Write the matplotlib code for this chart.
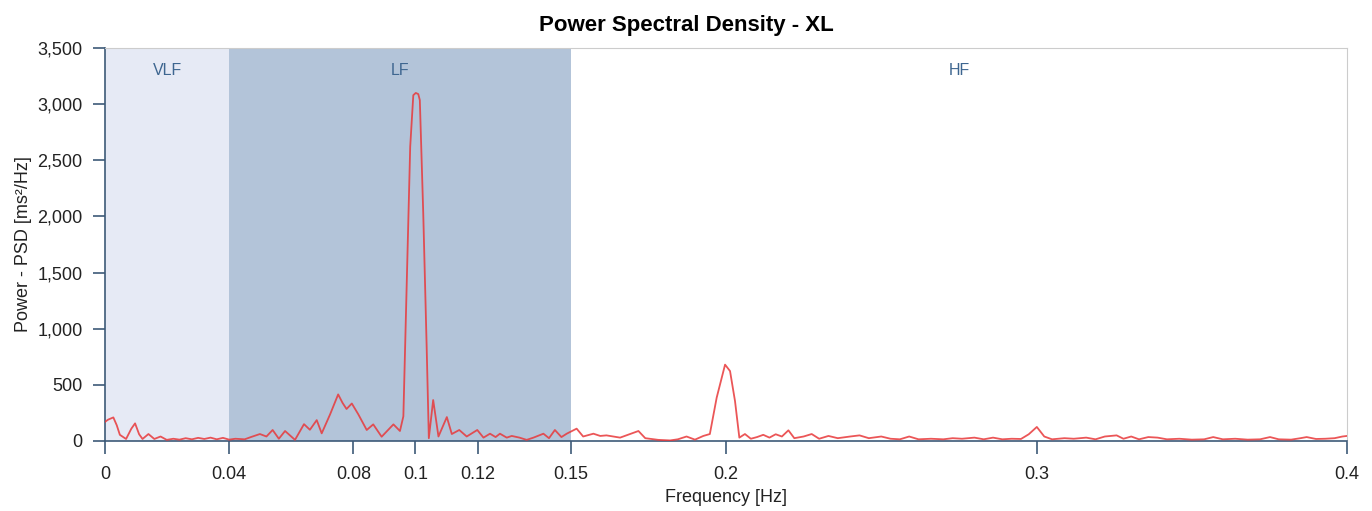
import matplotlib
matplotlib.use("Agg")
import matplotlib.pyplot as plt
from matplotlib.ticker import FuncFormatter

plt.rcParams["font.family"] = ["Liberation Sans", "DejaVu Sans"]

# frequency (Hz) and PSD (ms^2/Hz)
freq = [
    0.000, 0.001, 0.0027, 0.0038, 0.0048, 0.0068, 0.0085, 0.0097, 0.011, 0.0121,
    0.014, 0.0159, 0.0179, 0.0199, 0.022, 0.024, 0.026, 0.028, 0.030, 0.032,
    0.034, 0.036, 0.038, 0.040, 0.042, 0.045, 0.047, 0.0499, 0.052, 0.054,
    0.056, 0.058, 0.0612, 0.0641, 0.066, 0.0682, 0.0698, 0.0725, 0.0751, 0.0765,
    0.0778, 0.0795, 0.0816, 0.0843, 0.0864, 0.0891, 0.0929, 0.095, 0.0961, 0.0972,
    0.0983, 0.0993, 0.1001, 0.1009, 0.1014, 0.1025, 0.1036, 0.1043, 0.1057, 0.1074,
    0.1101, 0.1117, 0.1141, 0.1165, 0.1199, 0.1219, 0.124, 0.1258, 0.1272, 0.1294,
    0.131, 0.1335, 0.1358, 0.138, 0.1412, 0.143, 0.1449, 0.147, 0.1487, 0.1519,
    0.154, 0.1573, 0.1595, 0.1615, 0.1659, 0.1718, 0.174, 0.1782, 0.182, 0.1845,
    0.1873, 0.19, 0.1927, 0.1948, 0.197, 0.1997, 0.2013, 0.2029, 0.2043, 0.2061,
    0.208, 0.210, 0.212, 0.214, 0.216, 0.218, 0.2201, 0.222, 0.225, 0.2276,
    0.230, 0.233, 0.236, 0.240, 0.243, 0.246, 0.250, 0.253, 0.256, 0.259,
    0.262, 0.266, 0.270, 0.273, 0.276, 0.280, 0.283, 0.286, 0.289, 0.292,
    0.295, 0.2975, 0.3001, 0.3025, 0.305, 0.309, 0.312, 0.316, 0.319, 0.322,
    0.3258, 0.328, 0.3305, 0.333, 0.336, 0.339, 0.342, 0.346, 0.350, 0.354,
    0.3569, 0.360, 0.364, 0.368, 0.372, 0.3752, 0.378, 0.382, 0.385, 0.387,
    0.390, 0.393, 0.396, 0.3985, 0.400,
]
psd = [
    170, 190, 210, 140, 55, 18, 110, 157, 60, 18,
    62, 18, 40, 10, 20, 12, 25, 15, 28, 18,
    30, 15, 28, 12, 20, 15, 35, 62, 40, 98,
    20, 89, 10, 150, 100, 186, 68, 237, 415, 340,
    285, 334, 237, 98, 148, 38, 148, 89, 220, 1434,
    2620, 3080, 3100, 3090, 3036, 2030, 840, 25, 365, 40,
    213, 62, 98, 40, 98, 30, 65, 35, 65, 30,
    45, 30, 10, 30, 65, 25, 98, 35, 65, 110,
    40, 65, 45, 50, 30, 89, 25, 10, 5, 15,
    40, 12, 45, 62, 386, 680, 623, 356, 30, 62,
    20, 35, 55, 30, 60, 40, 95, 25, 40, 62,
    20, 45, 25, 40, 50, 25, 40, 20, 15, 40,
    15, 20, 15, 25, 20, 30, 15, 30, 15, 20,
    18, 60, 125, 40, 15, 25, 20, 30, 15, 40,
    50, 20, 40, 15, 35, 30, 15, 20, 12, 15,
    35, 15, 20, 12, 15, 35, 15, 12, 25, 35,
    18, 20, 25, 40, 45,
]

bands = [("VLF", 0.0, 0.04, "#e6eaf5"), ("LF", 0.04, 0.15, "#b3c4d9"), ("HF", 0.15, 0.4, "white")]
x_ticks = [0, 0.04, 0.08, 0.1, 0.12, 0.15, 0.2, 0.3, 0.4]
x_tick_labels = ["0", "0.04", "0.08", "0.1", "0.12", "0.15", "0.2", "0.3", "0.4"]
y_ticks = [0, 500, 1000, 1500, 2000, 2500, 3000, 3500]

axis_col = "#3d5a78"

fig = plt.figure(figsize=(13.72, 5.11), dpi=100)
ax = fig.add_axes([0.0765, 0.137, 0.9053, 0.769])

for name, lo, hi, col in bands:
    ax.axvspan(lo, hi, color=col, zorder=0, lw=0)
    ax.text((lo + hi) / 2, 3300, name, ha="center", va="center",
            fontsize=11.5, color="#3e6690", zorder=1)

ax.plot(freq, psd, color="#e8383a", lw=1.3, alpha=0.85, zorder=3)

ax.set_xlim(0, 0.4)
ax.set_ylim(0, 3500)
ax.set_xticks(x_ticks)
ax.set_xticklabels(x_tick_labels)
ax.set_yticks(y_ticks)
ax.yaxis.set_major_formatter(FuncFormatter(lambda v, p: f"{int(v):,}"))

for side in ("left", "bottom"):
    ax.spines[side].set_color(axis_col)
    ax.spines[side].set_linewidth(1.2)
for side in ("top", "right"):
    ax.spines[side].set_color("#cccccc")
    ax.spines[side].set_linewidth(0.8)

ax.tick_params(axis="both", direction="out", length=9, width=1.2, color=axis_col,
               labelsize=13, labelcolor="#222222")
ax.tick_params(axis="x", pad=9)
ax.tick_params(axis="y", pad=7)

ax.set_xlabel("Frequency [Hz]", fontsize=13, color="#222222", labelpad=4)
ax.set_ylabel("Power - PSD [ms²/Hz]", fontsize=13, color="#222222", labelpad=4)
fig.text(0.5, 0.95, "Power Spectral Density - XL", ha="center", va="center",
         fontsize=16, fontweight="bold")

fig.savefig("out.png", dpi=100)
